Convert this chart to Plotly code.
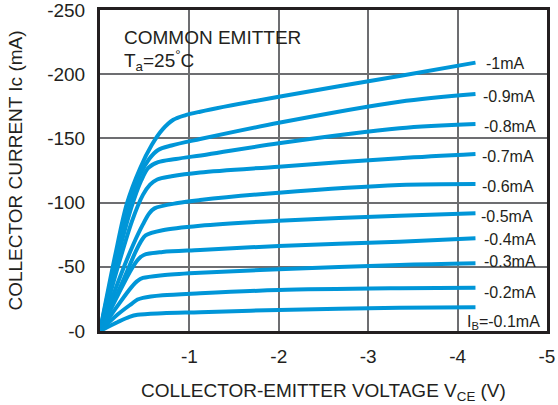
import plotly.graph_objects as go

# Base current labels
ib_labels = ["-1mA", "-0.9mA", "-0.8mA", "-0.7mA", "-0.6mA",
             "-0.5mA", "-0.4mA", "-0.3mA", "-0.2mA", "I<sub>B</sub>=-0.1mA"]

# VCE (V) and IC (mA), one pair per curve
v_1_0 = [0, -0.17, -0.30, -0.45, -0.58, -0.70, -0.82, -0.95, -1.12, -2.0, -3.35, -4.2]
i_1_0 = [0, -59, -99, -127, -145, -157, -164.5, -168, -170.8, -182.5, -198.6, -209]

v_0_9 = [0, -0.18, -0.33, -0.45, -0.55, -0.65, -0.8, -1.12, -2.0, -3.35, -4.2]
i_0_9 = [0, -57, -97, -122, -134, -141, -144.5, -149.5, -162.2, -178.6, -184.6]

v_0_8 = [0, -0.2, -0.35, -0.46, -0.54, -0.65, -0.85, -1.2, -2.0, -3.35, -4.2]
i_0_8 = [0, -58, -96, -117, -127, -131.5, -134, -137.5, -146.2, -157.9, -161.2]

v_0_7 = [0, -0.2, -0.36, -0.48, -0.56, -0.64, -0.8, -1.12, -2.0, -3.35, -4.2]
i_0_7 = [0, -50, -86, -106, -114, -118, -120.5, -123.5, -128, -134.6, -137.9]

v_0_6 = [0, -0.24, -0.37, -0.48, -0.55, -0.61, -0.87, -1.12, -2.0, -3.35, -4.2]
i_0_6 = [0, -45, -67, -83, -91.5, -95.5, -99.7, -102, -107.7, -113.7, -114.5]

v_0_5 = [0, -0.25, -0.4, -0.46, -0.51, -0.7, -1.12, -2.0, -3.35, -4.2]
i_0_5 = [0, -38, -62, -70, -74.5, -78.5, -82, -85.9, -89.8, -91.7]

v_0_4 = [0, -0.2, -0.35, -0.43, -0.49, -0.7, -1.12, -2.0, -3.35, -4.2]
i_0_4 = [0, -28, -48, -56, -59.2, -61.5, -63.1, -66.2, -69.5, -72.2]

v_0_3 = [0, -0.2, -0.35, -0.42, -0.48, -0.7, -1.12, -2.0, -3.35, -4.2]
i_0_3 = [0, -20, -34, -39, -41.3, -43.5, -45.4, -48.1, -51.4, -52.7]

v_0_2 = [0, -0.2, -0.35, -0.42, -0.48, -0.7, -1.12, -2.0, -3.35, -4.2]
i_0_2 = [0, -13, -21, -24.5, -25.8, -27.8, -29.4, -31.9, -33.3, -33.7]

v_0_1 = [0, -0.2, -0.33, -0.42, -0.7, -1.12, -2.0, -3.35, -4.2]
i_0_1 = [0, -7, -11, -12.6, -13.8, -14.6, -16.4, -18.1, -18.5]

curves_v = [v_1_0, v_0_9, v_0_8, v_0_7, v_0_6, v_0_5, v_0_4, v_0_3, v_0_2, v_0_1]
curves_i = [i_1_0, i_0_9, i_0_8, i_0_7, i_0_6, i_0_5, i_0_4, i_0_3, i_0_2, i_0_1]

x_tick_vals = [-1, -2, -3, -4, -5]
x_tick_text = ["-1", "-2", "-3", "-4", "-5"]
y_tick_vals = [0, -50, -100, -150, -200, -250]
y_tick_text = ["-0", "-50", "-100", "-150", "-200", "-250"]

BLUE = "#0096d8"
INK = "#231f20"
GRID = "#6d6e71"
FONT = "Liberation Sans, Arial, sans-serif"

fig = go.Figure()
for vs, cs, name in zip(curves_v, curves_i, ib_labels):
    fig.add_trace(go.Scatter(
        x=vs, y=cs, mode="lines", name=name,
        line=dict(color=BLUE, width=4, shape="spline", smoothing=0.9),
        hoverinfo="skip", showlegend=False))

# curve labels (layout positions, data-coordinate y)
label_y = [-208.7, -183, -159, -135.7, -112.4, -89, -70.9, -54, -29.8, -6.8]
label_x = [-4.28, -4.25, -4.26, -4.24, -4.24, -4.23, -4.26, -4.26, -4.26, -4.07]
for lx, ly, txt in zip(label_x, label_y, ib_labels):
    is_half = txt == "-0.5mA"
    fig.add_annotation(
        x=lx, y=ly, xref="x", yref="y", text=txt, showarrow=False,
        xanchor="left", yanchor="middle",
        font=dict(family=FONT, size=16, color=INK),
        bgcolor="white" if is_half else "rgba(0,0,0,0)",
        borderpad=2)

fig.add_annotation(
    x=-0.245, y=-228.5, xref="x", yref="y", xanchor="left", yanchor="middle",
    text="COMMON EMITTER", showarrow=False,
    font=dict(family=FONT, size=19, color=INK))
fig.add_annotation(
    x=-0.245, y=-210.5, xref="x", yref="y", xanchor="left", yanchor="middle",
    text="T<sub>a</sub>=25<sup>°</sup>C", showarrow=False,
    font=dict(family=FONT, size=19, color=INK))

fig.update_layout(
    width=558, height=405,
    margin=dict(l=100, r=11, t=10, b=74),
    paper_bgcolor="white", plot_bgcolor="white",
    font=dict(family=FONT, size=19, color=INK),
    xaxis=dict(
        range=[0, -5], tickvals=x_tick_vals, ticktext=x_tick_text,
        showgrid=True, gridcolor=GRID, gridwidth=2, zeroline=False,
        showline=True, linecolor=INK, linewidth=3, mirror=True,
        ticks="", ticklabelstandoff=6, automargin=False,
        ticklabeloverflow="allow",
        tickfont=dict(family=FONT, size=19, color=INK),
        title=dict(text="COLLECTOR-EMITTER VOLTAGE V<sub>CE</sub> (V)",
                   font=dict(family=FONT, size=19, color=INK), standoff=18),
    ),
    yaxis=dict(
        range=[0, -250], tickvals=y_tick_vals, ticktext=y_tick_text,
        showgrid=True, gridcolor=GRID, gridwidth=2, zeroline=False,
        showline=True, linecolor=INK, linewidth=3, mirror=True,
        ticks="", ticklabelstandoff=8, automargin=False,
        ticklabeloverflow="allow",
        tickfont=dict(family=FONT, size=19, color=INK),
        title=dict(text="COLLECTOR CURRENT Ic (mA)",
                   font=dict(family=FONT, size=19, color=INK), standoff=20),
    ),
)

fig.write_html("out.html", config={"displayModeBar": False},
               post_script="document.body.style.margin='0px';")
